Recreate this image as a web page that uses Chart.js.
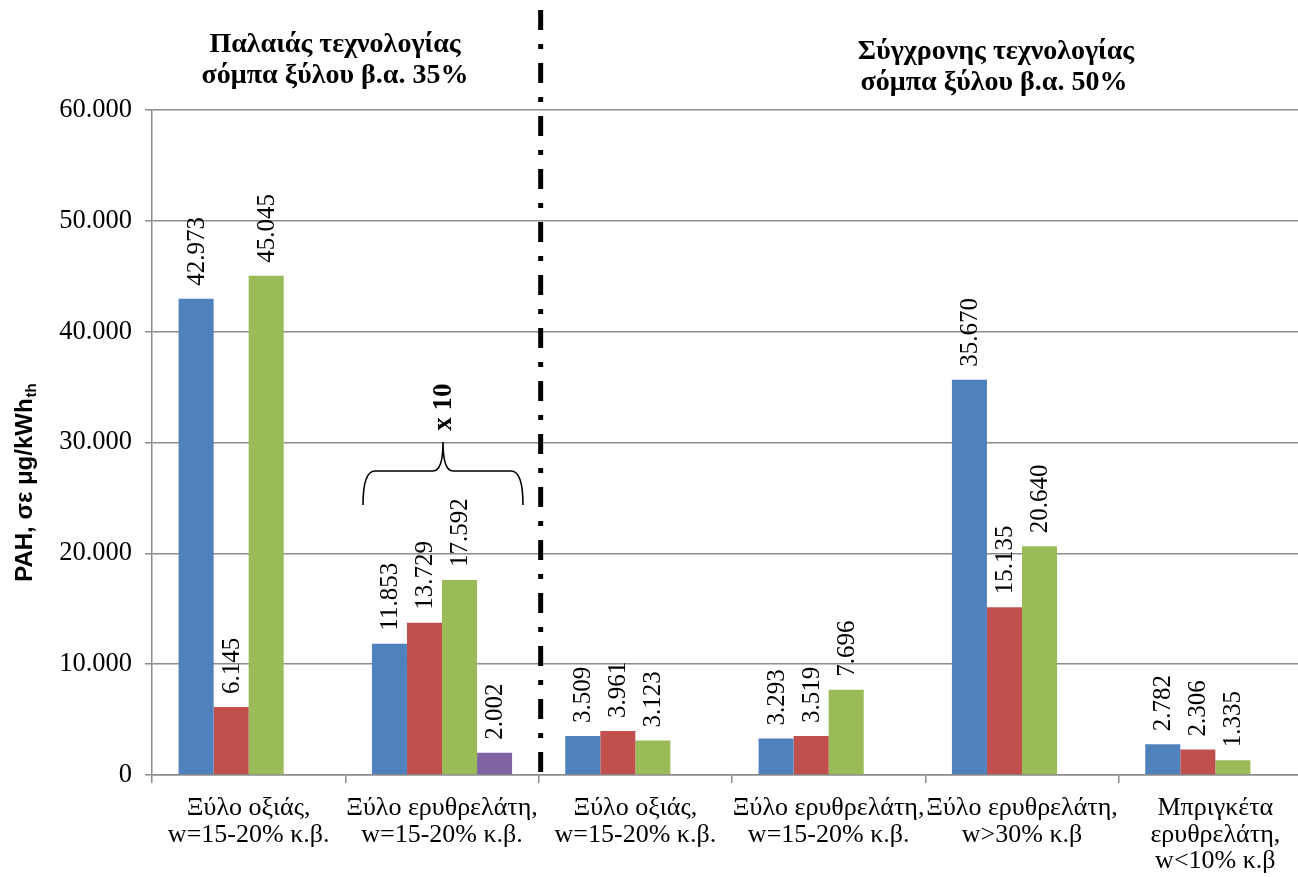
<!DOCTYPE html>
<html>
<head>
<meta charset="utf-8">
<script src="https://cdn.jsdelivr.net/npm/chart.js@4.4.0/dist/chart.umd.min.js"></script>
<style>
html,body{margin:0;padding:0;background:#fff;overflow:hidden;}
#wrap{position:absolute;left:0;top:0;width:1314px;height:877px;}
</style>
</head>
<body>
<div id="wrap"><canvas id="c" width="1314" height="877"></canvas></div>
<script>
const categories = [
  ["Ξύλο οξιάς,", "w=15-20% κ.β."],
  ["Ξύλο ερυθρελάτη,", "w=15-20% κ.β."],
  ["Ξύλο οξιάς,", "w=15-20% κ.β."],
  ["Ξύλο ερυθρελάτη,", "w=15-20% κ.β."],
  ["Ξύλο ερυθρελάτη,", "w>30% κ.β"],
  ["Μπριγκέτα", "ερυθρελάτη,", "w<10% κ.β"]
];
const seriesBlue   = [42.973, 11.853, 3.509, 3.293, 35.670, 2.782];
const seriesRed    = [6.145, 13.729, 3.961, 3.519, 15.135, 2.306];
const seriesGreen  = [45.045, 17.592, 3.123, 7.696, 20.640, 1.335];
const seriesPurple = [null, 2.002, null, null, null, null];
const yTicks = [0, 10, 20, 30, 40, 50, 60];
const yTitle = "PAH, σε μg/kWh";
const yTitleSub = "th";
const headerLeft = ["Παλαιάς τεχνολογίας", "σόμπα ξύλου β.α. 35%"];
const headerRight = ["Σύγχρονης τεχνολογίας", "σόμπα ξύλου β.α. 50%"];
const braceLabel = "x 10";

Chart.defaults.color = '#000';
const SERIF = "'Liberation Serif', 'Times New Roman', serif";
const SANS = "'Liberation Sans', Arial, sans-serif";
const GRID = '#8c8c8c';

function fmt(v){ return v === 0 ? '0' : v.toFixed(3); }

const labelPlugin = {
  id: 'valueLabels',
  afterDatasetsDraw(chart){
    const ctx = chart.ctx;
    ctx.save();
    ctx.font = "25px " + SERIF;
    ctx.fillStyle = '#000';
    ctx.textAlign = 'left';
    ctx.textBaseline = 'middle';
    chart.data.datasets.forEach((ds, di) => {
      const meta = chart.getDatasetMeta(di);
      meta.data.forEach((bar, i) => {
        const v = ds.data[i];
        if (v === null || v === undefined) return;
        ctx.save();
        ctx.translate(bar.x, bar.y - 13);
        ctx.rotate(-Math.PI/2);
        ctx.fillText(fmt(v), 0, 1);
        ctx.restore();
      });
    });
    ctx.restore();
  }
};

const annoPlugin = {
  id: 'annotations',
  afterDraw(chart){
    const ctx = chart.ctx;
    const xs = chart.scales.x;
    ctx.save();
    // Y title with subscript
    ctx.save();
    ctx.translate(25, 483);
    ctx.rotate(-Math.PI/2);
    ctx.font = "bold 24px " + SANS;
    const w1 = ctx.measureText(yTitle).width;
    ctx.font = "bold 15px " + SANS;
    const w2 = ctx.measureText(yTitleSub).width;
    const start = -(w1 + w2)/2;
    ctx.textBaseline = 'middle';
    ctx.textAlign = 'left';
    ctx.fillStyle = '#000';
    ctx.font = "bold 24px " + SANS;
    ctx.fillText(yTitle, start, 0);
    ctx.font = "bold 15px " + SANS;
    ctx.fillText(yTitleSub, start + w1 + 1, 7);
    ctx.restore();

    // headers
    ctx.font = "bold 28px " + SERIF;
    ctx.textAlign = 'center';
    ctx.textBaseline = 'middle';
    ctx.fillText(headerLeft[0], 335, 45);
    ctx.fillText(headerLeft[1], 335, 76);
    ctx.fillText(headerRight[0], 996, 52);
    ctx.fillText(headerRight[1], 994, 83);

    // divider dash-dot
    const dx = xs.getPixelForValue(1.5) + 2;
    ctx.strokeStyle = '#000';
    ctx.lineWidth = 5;
    ctx.setLineDash([20, 14, 5, 14]);
    ctx.beginPath();
    ctx.moveTo(dx, 10);
    ctx.lineTo(dx, 780);
    ctx.stroke();
    ctx.setLineDash([]);

    // brace over category 2
    const cx = xs.getPixelForValue(1) + 1;
    const L = cx - 80, R = cx + 80;
    const top = 471, bot = 505, peak = 440;
    ctx.lineWidth = 1.6;
    ctx.beginPath();
    ctx.moveTo(L, bot);
    ctx.quadraticCurveTo(L, top, L + 12, top);
    ctx.lineTo(cx - 10, top);
    ctx.quadraticCurveTo(cx, top, cx, peak + 2);
    ctx.quadraticCurveTo(cx, top, cx + 10, top);
    ctx.lineTo(R - 12, top);
    ctx.quadraticCurveTo(R, top, R, bot);
    ctx.stroke();

    // x 10
    ctx.save();
    ctx.translate(cx, 407);
    ctx.rotate(-Math.PI/2);
    ctx.font = "bold 27px " + SERIF;
    ctx.textAlign = 'center';
    ctx.textBaseline = 'middle';
    ctx.fillText(braceLabel, 0, 1);
    ctx.restore();

    ctx.restore();
  }
};

new Chart(document.getElementById('c'), {
  type: 'bar',
  data: {
    labels: categories,
    datasets: [
      { data: seriesBlue, backgroundColor: '#4F81BD' },
      { data: seriesRed, backgroundColor: '#C0504D' },
      { data: seriesGreen, backgroundColor: '#9BBB59' },
      { data: seriesPurple, backgroundColor: '#8064A2' }
    ]
  },
  options: {
    responsive: false,
    animation: false,
    devicePixelRatio: 1,
    layout: { padding: { top: 110, left: 0, right: 2, bottom: 0 } },
    datasets: { bar: { categoryPercentage: 0.725, barPercentage: 1.0, borderWidth: 0 } },
    plugins: { legend: { display: false }, tooltip: { enabled: false } },
    scales: {
      x: {
        afterFit(s){ s.height = 102; },
        grid: { offset: true, drawOnChartArea: false, drawTicks: true, tickLength: 8, color: GRID, lineWidth: 1.5 },
        border: { display: true, color: GRID, width: 1.5 },
        ticks: { font: { family: SERIF, size: 26, lineHeight: 1.02 }, color: '#000', padding: 12, maxRotation: 0, autoSkip: false }
      },
      y: {
        min: 0, max: 60,
        afterFit(s){ s.width = 152; },
        afterBuildTicks(s){ s.ticks = yTicks.map(v => ({ value: v })); },
        grid: { color: GRID, lineWidth: 1.5, tickLength: 7 },
        border: { display: true, color: GRID, width: 1.5 },
        ticks: { font: { family: SERIF, size: 26.5 }, color: '#000', padding: 13, callback: v => fmt(v) }
      }
    }
  },
  plugins: [labelPlugin, annoPlugin]
});
</script>
</body>
</html>
